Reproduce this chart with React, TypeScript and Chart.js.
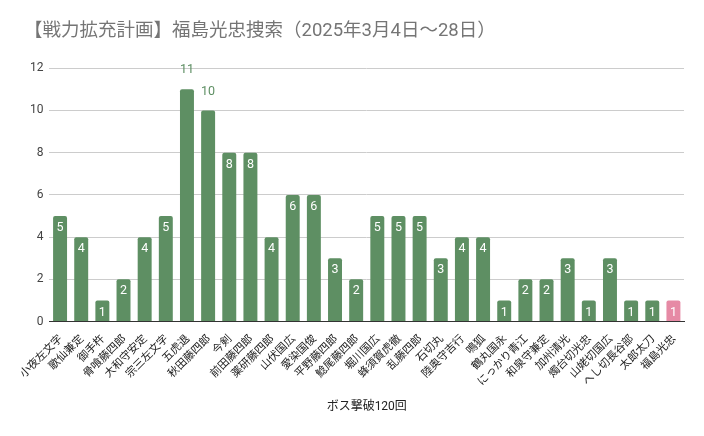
import React, { useEffect, useRef } from "react";
import { Chart, registerables } from "chart.js";

Chart.register(...registerables);

const categories = [
  "小夜左文字", "歌仙兼定", "御手杵", "骨喰藤四郎", "大和守安定", "宗三左文字",
  "五虎退", "秋田藤四郎", "今剣", "前田藤四郎", "薬研藤四郎", "山伏国広",
  "愛染国俊", "平野藤四郎", "鯰尾藤四郎", "堀川国広", "蜂須賀虎徹", "乱藤四郎",
  "石切丸", "陸奥守吉行", "鳴狐", "鶴丸国永", "にっかり青江", "和泉守兼定",
  "加州清光", "燭台切光忠", "山姥切国広", "へし切長谷部", "太郎太刀", "福島光忠",
];
const counts = [5, 4, 1, 2, 4, 5, 11, 10, 8, 8, 4, 6, 6, 3, 2, 5, 5, 5, 3, 4, 4, 1, 2, 2, 3, 1, 3, 1, 1, 1];
const highlightName = "福島光忠";
const yTicks = [0, 2, 4, 6, 8, 10, 12];
const titleText = "【戦力拡充計画】福島光忠捜索（2025年3月4日～28日）";
const xTitle = "ボス撃破120回";

const GREEN = "#5e8f63";
const PINK = "#e68aa5";
const FONT = "'Noto Sans CJK JP', Roboto, 'Noto Sans', sans-serif";
const NUMFONT = "Roboto, 'Noto Sans CJK JP', sans-serif";

const labelPlugin = {
  id: "valueLabels",
  afterDatasetsDraw(chart: any) {
    const ctx = chart.ctx;
    const meta = chart.getDatasetMeta(0);
    const data = chart.data.datasets[0].data as number[];
    ctx.save();
    ctx.font = `12.5px ${NUMFONT}`;
    ctx.textAlign = "center";
    ctx.textBaseline = "middle";
    meta.data.forEach((bar: any, i: number) => {
      const v = data[i];
      if (v >= 10) {
        ctx.fillStyle = GREEN;
        ctx.fillText(String(v), bar.x, bar.y - 19);
      } else {
        ctx.fillStyle = "#ffffff";
        ctx.fillText(String(v), bar.x, bar.y + 12);
      }
    });
    ctx.restore();
  },
};

export default function App() {
  const ref = useRef<HTMLCanvasElement>(null);
  useEffect(() => {
    if (!ref.current) return;
    const chart = new Chart(ref.current, {
      type: "bar",
      data: {
        labels: categories,
        datasets: [
          {
            data: counts,
            backgroundColor: categories.map((c) => (c === highlightName ? PINK : GREEN)),
            borderRadius: 2,
            borderSkipped: "bottom",
            barPercentage: 0.66,
            categoryPercentage: 1,
          },
        ],
      },
      options: {
        animation: false,
        responsive: false,
        devicePixelRatio: 1,
        layout: { padding: { left: 24, right: 20, top: 0, bottom: 22 } },
        plugins: {
          legend: { display: false },
          tooltip: { enabled: false },
          title: {
            display: true,
            text: titleText,
            align: "start",
            color: "#757575",
            font: { family: NUMFONT, size: 18.5, weight: "normal" },
            padding: { top: 20, bottom: 26 },
          },
        },
        scales: {
          x: {
            grid: { display: false },
            border: { color: "#333333", width: 1 },
            ticks: {
              color: "#222222",
              font: { family: FONT, size: 11 },
              minRotation: 45,
              maxRotation: 45,
              autoSkip: false,
              padding: 2,
            },
            title: {
              display: true,
              text: xTitle,
              color: "#222222",
              font: { family: NUMFONT, size: 12 },
              padding: { top: 10, bottom: 0 },
            },
          },
          y: {
            min: 0,
            max: 12,
            afterBuildTicks: (axis: any) => {
              axis.ticks = yTicks.map((v) => ({ value: v }));
            },
            grid: { color: "#cccccc", drawTicks: false },
            border: { display: false },
            ticks: {
              color: "#444444",
              font: { family: NUMFONT, size: 12 },
              padding: 6,
            },
          },
        },
      },
      plugins: [labelPlugin],
    });
    return () => chart.destroy();
  }, []);
  return (
    <div style={{ position: "fixed", left: 0, top: 0, width: 704, height: 436, background: "#fff" }}>
      <canvas ref={ref} width={704} height={436} />
    </div>
  );
}
